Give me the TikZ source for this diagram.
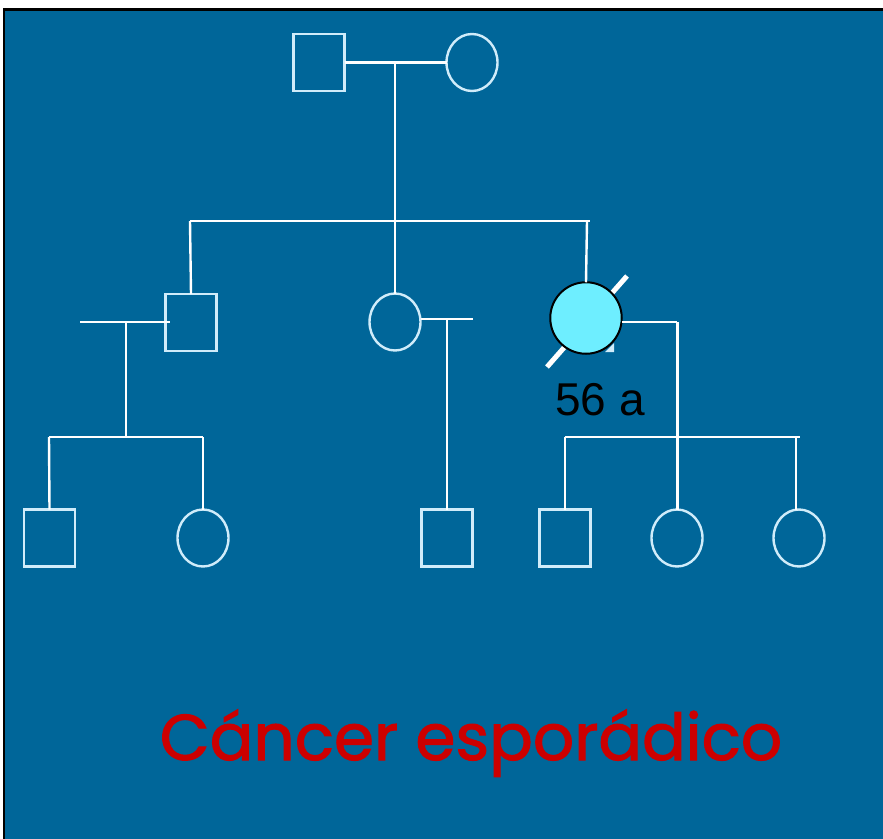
\documentclass[tikz,border=0pt]{standalone}
\usepackage{fontspec}
\usepackage{graphicx}
\usetikzlibrary{shapes.geometric}
\newfontfamily\arialfont{Liberation Sans}
\newfontfamily\titlefont[FakeBold=1.6]{Poppins}
\definecolor{bgblue}{RGB}{0,102,153}
\definecolor{outl}{RGB}{208,236,250}
\definecolor{affcyan}{RGB}{110,238,255}
\definecolor{titlered}{RGB}{204,0,0}
\tikzset{
  sq/.style={draw=outl,line width=2.4pt,rectangle,minimum width=51pt,minimum height=57pt,inner sep=0pt,outer sep=0pt},
  ov/.style={draw=outl,line width=2.4pt,ellipse,minimum width=51pt,minimum height=57pt,inner sep=0pt,outer sep=0pt},
  aff/.style={draw=black,line width=2pt,fill=affcyan,circle,minimum size=71.5pt,inner sep=0pt,outer sep=0pt},
  ln/.style={draw=white,line width=2.4pt},
}
\begin{document}
\begin{tikzpicture}[x=1pt,y=-1pt]
\useasboundingbox (0,0) rectangle (883,838);
\fill[white] (0,0) rectangle (883,838);
\draw[black,line width=2.5pt,fill=bgblue] (4,9.5) rectangle (890,845);
% grandparents
\node[sq] (gf) at (319,62.5) {};
\node[ov] (gm) at (472,62.5) {};
\coordinate (m1) at (395,62);
\draw[ln] (gf.east) -- (gm.west);
\coordinate (sibL) at (190,221);
\coordinate (sibR) at (590,221);
\coordinate (sibM) at (395,221);
\draw[ln] (m1) -- (sibM);
\draw[ln] (sibL) -- (sibR);
% generation II
\node[sq] (s1) at (191,322.5) {};
\node[ov] (d2) at (395,322) {};
% corner of the symbol hidden under the affected one
\fill[outl] (605,352) -- (614,352) -- (614,343) -- cycle;
\coordinate (sl1) at (547,367);
\coordinate (sl2) at (627,276);
\draw[white,line width=5pt] (sl1) -- (sl2);
\node[aff] (d3) at (586,318) {};
\draw[ln] (sibL) -- (s1.north);
\draw[ln] (sibM) -- (d2.north);
\coordinate (d3top) at (587,221);
\draw[ln] (d3top) -- (d3.north);
\node[font=\arialfont\fontsize{46}{46}\selectfont,text=black,inner sep=0pt] (age) at (600,399.5) {56 a};
% left family
\coordinate (sp1) at (80,322);
\coordinate (sp1e) at (170,322);
\coordinate (lm) at (126,322);
\coordinate (lb) at (126,437);
\coordinate (lsl) at (49,437);
\coordinate (lsr) at (203,437);
\draw[ln] (sp1) -- (sp1e);
\draw[ln] (lm) -- (lb);
\draw[ln] (lsl) -- (lsr);
\node[sq] (c1) at (49.5,538) {};
\node[ov] (c2) at (203,538) {};
\draw[ln] (lsl) -- (c1.north);
\draw[ln] (lsr) -- (c2.north);
% middle family
\coordinate (mr) at (473,319);
\coordinate (md) at (447,319);
\draw[ln] (d2.east |- mr) -- (mr);
\node[sq] (c3) at (447,538) {};
\draw[ln] (md) -- (c3.north);
% right family
\coordinate (rc) at (677,322);
\node[sq] (c4) at (565,538) {};
\node[ov] (c5) at (677,538) {};
\node[ov] (c6) at (799,538) {};
\coordinate (rsl) at (565,437);
\coordinate (rsr) at (800,437);
\coordinate (rd6) at (796,437);
\draw[ln] (d3.east |- rc) -- (rc);
\draw[white,line width=3pt] (rc) -- (c5.north);
\draw[ln] (rsl) -- (rsr);
\draw[ln] (rsl) -- (c4.north);
\draw[ln] (rd6) -- (rd6 |- c6.north);
% title
\node[anchor=base,inner sep=0pt,text=titlered] (title) at (471,760) {\resizebox{622pt}{!}{\titlefont Cáncer esporádico}};
\end{tikzpicture}
\end{document}
